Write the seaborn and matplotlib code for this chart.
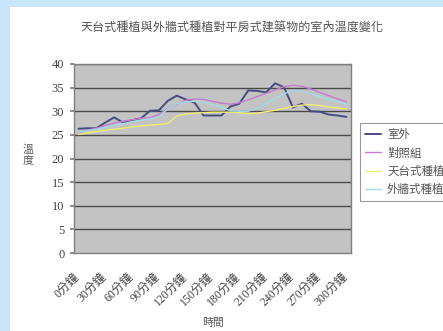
import matplotlib
matplotlib.use("Agg")
import matplotlib.pyplot as plt
import matplotlib.patches as mpatches
import matplotlib.transforms as mtransforms
import seaborn as sns
import pandas as pd

minutes = [0, 10, 20, 30, 40, 50, 60, 70, 80, 90, 100, 110, 120, 130, 140, 150,
           160, 170, 180, 190, 200, 210, 220, 230, 240, 250, 260, 270, 280, 290, 300]
tick_minutes = [0, 30, 60, 90, 120, 150, 180, 210, 240, 270, 300]
tick_labels = ["0分鐘", "30分鐘", "60分鐘", "90分鐘", "120分鐘", "150分鐘",
               "180分鐘", "210分鐘", "240分鐘", "270分鐘", "300分鐘"]

outdoor = [26.3, 26.4, 26.4, 27.6, 28.7, 27.6, 28.1, 28.5, 30.1, 30.2, 32.2, 33.3,
           32.5, 31.8, 29.1, 29.1, 29.1, 31.0, 31.6, 34.4, 34.3, 34.0, 35.9, 35.1,
           30.8, 31.6, 30.0, 29.9, 29.3, 29.1, 28.8]
control = [25.4, 26.0, 26.4, 27.0, 27.5, 27.9, 28.2, 28.5, 28.6, 29.3, 30.6, 31.5,
           32.3, 32.6, 32.5, 32.1, 31.7, 31.5, 31.8, 32.4, 33.1, 33.8, 34.5, 35.2,
           35.5, 35.3, 34.7, 34.0, 33.3, 32.6, 32.0]
roof = [25.1, 25.4, 25.7, 26.0, 26.2, 26.4, 26.7, 26.9, 27.1, 27.2, 27.4, 29.0,
        29.4, 29.6, 29.7, 29.8, 29.8, 29.8, 29.7, 29.5, 29.6, 29.9, 30.2, 30.6,
        31.0, 31.3, 31.4, 31.2, 30.9, 30.7, 30.5]
wall = [25.6, 25.9, 26.2, 26.6, 27.0, 27.4, 27.8, 28.1, 28.4, 28.8, 30.5, 31.6,
        32.0, 32.1, 31.9, 31.4, 30.8, 30.1, 30.0, 30.0, 30.6, 31.6, 32.7, 33.7,
        34.4, 34.3, 33.7, 33.1, 32.5, 32.0, 31.5]

series_names = ["室外", "對照組", "天台式種植", "外牆式種植"]
series_values = [outdoor, control, roof, wall]
colors = ["#474c80", "#c47ccc", "#eeee70", "#a6d9ea"]
widths = [1.4, 1.0, 1.0, 1.0]

df = pd.DataFrame({"時間": minutes * 4,
                   "溫度": sum(series_values, []),
                   "series": sum([[n] * len(minutes) for n in series_names], [])})

sns.set_theme(style="white")
plt.rcParams["font.family"] = ["Noto Sans CJK TC", "DejaVu Sans"]

fig = plt.figure(figsize=(4.43, 3.31), dpi=100)
fig.patch.set_facecolor("#c8e6fa")
bg = mpatches.Rectangle((10 / 443, 0), 1, 1 - 7 / 331, transform=fig.transFigure,
                        facecolor="white", edgecolor="none", zorder=-10)
fig.add_artist(bg)

ax = fig.add_axes([74 / 443, 1 - 253 / 331, 277 / 443, 189 / 331])
ax.set_zorder(1)
ax.set_facecolor("#c3c3c3")

for name, c, w in zip(series_names, colors, widths):
    sns.lineplot(data=df[df["series"] == name], x="時間", y="溫度", ax=ax,
                 color=c, linewidth=w, label=name, zorder=3)

ax.set_xlim(-5, 305)
ax.set_ylim(0, 40)
ax.set_yticks(range(0, 41, 5))
for y in range(5, 41, 5):
    ax.axhline(y, color="#4a4a4a", linewidth=1.0, zorder=1)
ax.grid(False)

for s in ax.spines.values():
    s.set_color("#808080")
    s.set_linewidth(1.0)

ax.set_xticks(tick_minutes)
ax.set_xticklabels(tick_labels, rotation=45, ha="right", rotation_mode="anchor",
                   family=["Liberation Serif", "Noto Sans CJK TC"], fontsize=8.5,
                   color="#444444")
ax.tick_params(axis="x", which="major", length=0, pad=13)
offset = mtransforms.ScaledTranslation(-5 / 100, 0, fig.dpi_scale_trans)
for lab in ax.get_xticklabels():
    lab.set_transform(lab.get_transform() + offset)
ax.set_xticks([m - 5 for m in minutes] + [305], minor=True)
ax.tick_params(axis="x", which="minor", direction="in", length=3, color="#555555",
               width=0.8)
ax.tick_params(axis="y", which="major", direction="out", length=3, color="#808080",
               labelsize=9, labelcolor="#444444", pad=4)
for lab in ax.get_yticklabels():
    lab.set_family("Liberation Serif")
ax.tick_params(left=True, bottom=True)

ax.set_xlabel("")
ax.set_ylabel("")
fig.text(213 / 443, 1 - 323 / 331, "時間", ha="center", va="center",
         fontsize=7.8, color="#555555")
fig.text(28 / 443, 1 - 155 / 331, "溫\n度", ha="center", va="center",
         fontsize=7.8, color="#555555", linespacing=1.1)
fig.text(232 / 443, 1 - 28 / 331, "天台式種植與外牆式種植對平房式建築物的室內溫度變化",
         ha="center", va="center", fontsize=8.7, color="#555555")

leg = ax.legend(loc="upper left", bbox_to_anchor=(360 / 443, 1 - 123 / 331),
                bbox_transform=fig.transFigure, borderaxespad=0, fontsize=8.3,
                frameon=True, fancybox=False, handlelength=1.4, handletextpad=0.5,
                labelspacing=0.45, borderpad=0.45)
leg.get_frame().set_edgecolor("#808080")
leg.get_frame().set_linewidth(0.8)
for t in leg.get_texts():
    t.set_color("#555555")

fig.savefig("out.png", dpi=100, facecolor=fig.get_facecolor())
